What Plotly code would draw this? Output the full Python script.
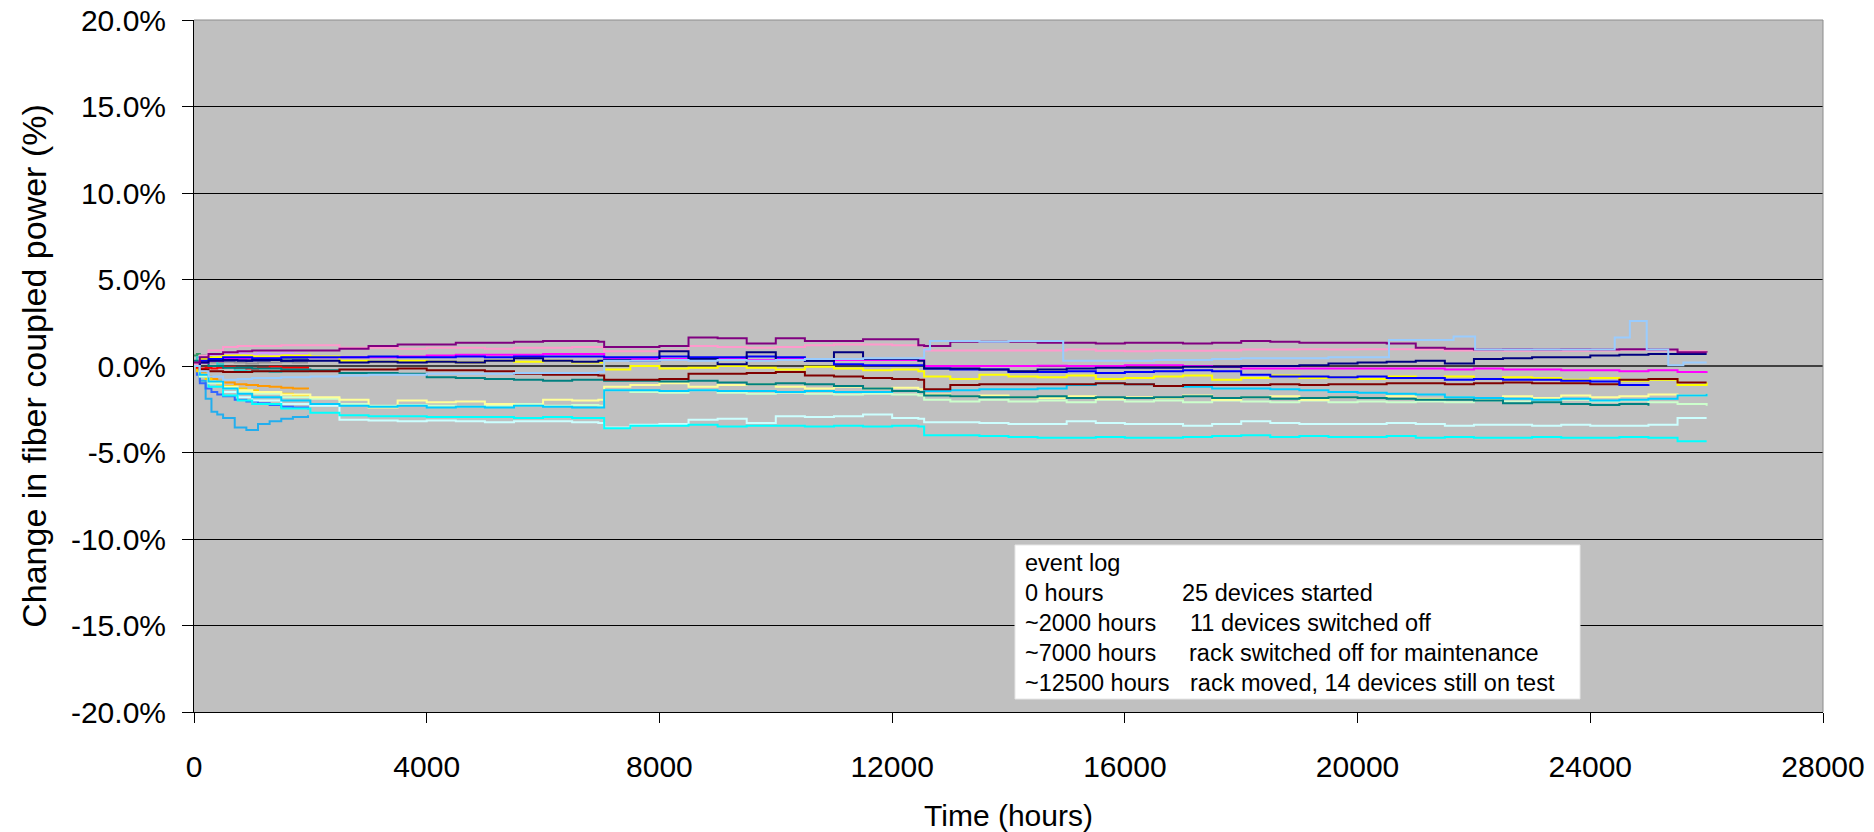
import plotly.graph_objects as go

# ---------------- data ----------------
# common time grid (hours) for the long-running devices
T = [0, 100, 250, 500, 750, 1000, 1500, 2000,
     2500, 3000, 3500, 4000, 4500, 5000, 5500, 6000, 6500,
     6950, 7050,
     7500, 8000, 8500, 9000, 9500, 10000, 10500, 11000, 11500, 12000,
     12450, 12550,
     13000, 13500, 14000, 14500, 15000, 15500, 16000, 16500, 17000, 17500,
     18000, 18500, 19000, 19500, 20000, 20500, 21000, 21500, 22000, 22500,
     23000, 23500, 24000, 24500, 25000, 25500, 26000]

PURPLE = [0.2, 0.5, 0.7, 0.8, 0.85, 0.9, 0.9, 0.9,
          1.0, 1.15, 1.25, 1.25, 1.35, 1.35, 1.4, 1.45, 1.45,
          1.4, 1.1,
          1.1, 1.15, 1.65, 1.6, 1.3, 1.6, 1.45, 1.45, 1.55, 1.55,
          1.2, 1.15,
          1.4, 1.4, 1.4, 1.35, 1.35, 1.3, 1.35, 1.35, 1.3, 1.35,
          1.45, 1.4, 1.35, 1.35, 1.35, 1.3, 1.05, 1.0, 0.95, 0.97,
          0.95, 0.97, 0.95, 0.97, 0.95, 0.8, 0.78]
PINK = [0.1, 0.6, 0.9, 1.1, 1.15, 1.15, 1.2, 1.2,
        1.05, 1.05, 1.0, 1.05, 1.05, 1.0, 1.05, 1.05, 1.1,
        1.1, 0.85,
        0.85, 0.9, 1.15, 1.1, 1.05, 1.1, 1.2, 1.25, 1.25, 1.2,
        1.2, 0.9,
        0.9, 0.9, 0.9, 0.9, 0.95, 0.88, 0.85, 0.88, 0.88, 0.9,
        0.95, 0.95, 0.97, 0.95, 0.97, 0.97, 0.95, 0.9, 0.9, 0.88,
        0.9, 0.88, 0.9, 0.92, 0.9, 0.85, 0.85]
NAVY = [0.0, 0.2, 0.3, 0.35, 0.3, 0.35, 0.3, 0.3,
        0.2, 0.25, 0.2, 0.25, 0.2, 0.3, 0.45, 0.3, 0.25,
        0.3, 0.35,
        0.3, 0.85, 0.4, 0.1, 0.8, 0.35, 0.3, 0.8, 0.4, 0.4,
        0.3, -0.15,
        -0.15, -0.2, -0.3, -0.2, -0.15, -0.1, -0.1, -0.1, -0.05, -0.05,
        0.0, 0.0, 0.05, 0.15, 0.2, 0.25, 0.3, 0.15, 0.4, 0.45,
        0.5, 0.5, 0.6, 0.65, 0.7, 0.7, 0.7]
BLUE = [0.0, 0.3, 0.4, 0.5, 0.5, 0.45, 0.5, 0.5,
        0.5, 0.55, 0.5, 0.5, 0.55, 0.5, 0.55, 0.55, 0.55,
        0.55, 0.5,
        0.5, 0.55, 0.5, 0.5, 0.55, 0.5, 0.3, 0.1, 0.05, 0.05,
        0.05, -0.15,
        -0.2, -0.2, -0.35, -0.35, -0.3, -0.4, -0.35, -0.3, -0.25, -0.3,
        -0.5, -0.6, -0.6, -0.65, -0.6, -0.7, -0.7, -0.8, -0.75, -0.8,
        -0.8, -0.85, -0.9, -1.1, -1.05]
MAGENTA = [0.0, 0.2, 0.3, 0.4, 0.45, 0.45, 0.5, 0.5,
           0.5, 0.5, 0.55, 0.6, 0.65, 0.65, 0.65, 0.7, 0.7,
           0.7, 0.4,
           0.4, 0.4, 0.35, 0.4, 0.35, 0.4, 0.35, 0.35, 0.35, 0.35,
           0.35, 0.0,
           0.0, 0.0, 0.0, 0.02, 0.0, 0.0, 0.05, 0.05, 0.0, -0.05,
           -0.15, -0.15, -0.15, -0.15, -0.15, -0.15, -0.15, -0.2, -0.15, -0.2,
           -0.2, -0.25, -0.25, -0.3, -0.25, -0.35, -0.3]
YELLOW = [0.0, 0.4, 0.5, 0.6, 0.6, 0.55, 0.6, 0.55,
          0.3, 0.25, 0.3, 0.25, 0.2, 0.3, 0.25, 0.3, 0.2,
          0.2, -0.2,
          0.0, -0.15, -0.1, 0.0, -0.1, -0.2, -0.05, -0.15, -0.25, -0.2,
          -0.3, -0.6,
          -0.75, -0.5, -0.6, -0.65, -0.55, -0.75, -0.7, -0.6, -0.55, -0.8,
          -0.7, -0.55, -0.7, -0.65, -0.75, -0.6, -0.7, -0.6, -0.75, -0.65,
          -0.7, -0.8, -0.7, -0.85, -0.8, -1.1, -0.95]
DARKRED = [0.0, -0.2, -0.3, -0.35, -0.35, -0.3, -0.3, -0.3,
           -0.2, -0.2, -0.15, -0.25, -0.25, -0.3, -0.45, -0.5, -0.5,
           -0.55, -0.8,
           -0.8, -0.75, -0.45, -0.45, -0.4, -0.35, -0.55, -0.6, -0.7, -0.75,
           -0.8, -1.35,
           -1.1, -1.05, -1.05, -1.05, -1.05, -1.0, -1.05, -1.15, -1.1, -1.1,
           -1.1, -1.05, -1.1, -1.05, -1.05, -1.0, -1.0, -1.05, -1.0, -0.95,
           -1.0, -1.0, -1.05, -0.8, -0.75, -0.95, -0.95]
TEAL = [0.3, 0.2, 0.0, -0.1, -0.1, -0.15, -0.2, -0.25,
        -0.4, -0.4, -0.45, -0.65, -0.7, -0.75, -0.8, -0.85, -0.8,
        -0.8, -0.85,
        -0.85, -0.9, -0.85, -0.95, -1.05, -1.0, -1.05, -1.15, -1.3, -1.45,
        -1.5, -1.7,
        -1.75, -1.8, -1.8, -1.75, -1.85, -1.8, -1.85, -1.8, -1.75, -1.85,
        -1.8, -1.9, -1.85, -1.8, -1.85, -1.9, -1.95, -1.95, -2.0, -2.15,
        -2.1, -2.2, -2.25, -2.2, -2.3]
LIGHTYELLOW = [0.0, -0.5, -0.9, -1.2, -1.4, -1.5, -1.65, -1.8,
               -1.95, -2.4, -2.0, -2.1, -2.05, -2.2, -2.3, -1.95, -2.0,
               -1.95, -1.2,
               -1.1, -1.0, -1.2, -1.1, -1.05, -1.2, -1.3, -1.2, -1.3, -1.25,
               -1.35, -1.65,
               -1.75, -1.7, -1.8, -1.85, -1.75, -1.9, -1.8, -1.85, -1.7, -1.95,
               -1.8, -1.75, -1.95, -1.8, -1.85, -1.75, -1.9, -1.8, -1.9, -1.75,
               -1.85, -1.7, -1.8, -1.75, -1.65, -1.7, -1.6]
LIGHTGREEN = [0.0, -0.6, -1.0, -1.3, -1.5, -1.6, -1.8, -1.9,
              -2.2, -2.3, -2.25, -2.3, -2.35, -2.3, -2.2, -2.3, -2.25,
              -2.3, -1.4,
              -1.5, -1.55, -1.4, -1.55, -1.6, -1.55, -1.6, -1.65, -1.6, -1.65,
              -1.7, -1.95,
              -2.05, -1.95, -2.05, -2.0, -2.1, -1.95, -2.05, -2.0, -2.1, -2.0,
              -2.05, -2.1, -2.0, -2.1, -2.05, -2.1, -2.05, -2.1, -2.0, -2.05,
              -2.1, -1.95, -2.05, -2.0, -2.1, -2.2, -2.3]
SKYBLUE = [0.0, -0.5, -0.9, -1.3, -1.6, -1.8, -2.0, -2.2,
           -2.3, -2.35, -2.3, -2.4, -2.35, -2.4, -2.3, -2.35, -2.4,
           -2.4, -1.4,
           -1.4, -1.45, -1.4, -1.45, -1.45, -1.5, -1.45, -1.5, -1.5, -1.45,
           -1.5, -1.45,
           -1.4, -1.35, -1.35, -1.3, -1.1, -1.0, -1.05, -1.15, -1.2, -1.3,
           -1.3, -1.35, -1.4, -1.5, -1.55, -1.6, -1.65, -1.8, -1.85, -1.9,
           -1.95, -1.9, -2.0, -1.95, -1.9, -1.7, -1.6]
LIGHTCYAN = [0.0, -0.5, -1.0, -1.5, -1.8, -2.0, -2.2, -2.3,
             -3.1, -3.15, -3.2, -3.15, -3.2, -3.25, -3.2, -3.2, -3.25,
             -3.3, -3.55,
             -3.4, -3.35, -3.1, -3.05, -3.3, -2.9, -2.95, -2.9, -2.8, -3.0,
             -3.05, -3.25,
             -3.25, -3.3, -3.35, -3.35, -3.2, -3.3, -3.35, -3.35, -3.45, -3.35,
             -3.2, -3.3, -3.35, -3.35, -3.35, -3.3, -3.35, -3.45, -3.4, -3.4,
             -3.45, -3.4, -3.45, -3.45, -3.4, -3.0, -3.0]
CYAN = [0.0, -0.6, -1.2, -1.7, -2.0, -2.2, -2.45, -2.7,
        -2.85, -2.9, -2.9, -2.95, -2.95, -2.95, -3.0, -2.95, -3.0,
        -3.0, -3.6,
        -3.45, -3.45, -3.4, -3.5, -3.45, -3.45, -3.5, -3.45, -3.5, -3.45,
        -3.5, -4.0,
        -4.0, -4.05, -4.1, -4.15, -4.15, -4.1, -4.15, -4.15, -4.1, -4.05,
        -4.0, -4.1, -4.05, -4.1, -4.1, -4.05, -4.15, -4.1, -4.15, -4.15,
        -4.1, -4.15, -4.15, -4.1, -4.15, -4.35, -4.35]

# light blue device has its own time base (several isolated jumps)
LB_T = [0, 100, 250, 500, 750, 1000, 1500, 2000, 2500, 3000, 3500, 4000, 4500,
        5000, 5500, 6000, 6500, 6950,
        7050, 7500, 8000, 8500, 9000, 9500, 10000, 10500, 11000, 11500, 12000,
        12450, 12550, 12650,
        13000, 13500, 14000, 14500,
        14940,
        15500, 16000, 16500, 17000, 17500, 18000, 18500, 19000, 19500, 20000,
        20540,
        21000, 21500, 21650,
        22020,
        22500, 23000, 23500, 24000,
        24420, 24680, 24970, 25340, 25600, 26000]
LB_V = [0.0, -0.3, -0.6, -0.8, -0.75, -0.7, -0.65, -0.6, -0.55, -0.5, -0.5, -0.45, -0.45,
        -0.45, -0.4, -0.4, -0.4, -0.35,
        0.3, 0.3, 0.35, 0.3, 0.35, 0.3, 0.35, 0.4, 0.4, 0.45, 0.45,
        0.45, 0.95, 1.45,
        1.45, 1.4, 1.45, 1.45,
        0.3,
        0.3, 0.3, 0.35, 0.35, 0.4, 0.45, 0.45, 0.45, 0.5, 0.5,
        1.5,
        1.5, 1.5, 1.7,
        0.95,
        0.95, 0.95, 0.95, 0.95,
        1.65, 2.6, 0.95, 0.05, 0.2, 0.2]

# eleven devices switched off at ~2000 hours
T_SHORT = [0, 50, 100, 200, 300, 400, 500, 700, 900, 1100, 1300, 1500, 1700, 1960]
DIP = [0.0, -0.3, -0.85, -1.9, -2.65, -2.8, -3.0, -3.55, -3.7, -3.35, -3.2, -3.05, -2.95, -2.85]
ROYAL = [0.0, -0.5, -1.0, -1.3, -1.5, -1.65, -1.75, -1.95, -2.05, -2.15, -2.25, -2.35, -2.4, -2.5]
ORANGE = [0.0, -0.2, -0.4, -0.6, -0.75, -0.85, -0.95, -1.05, -1.1, -1.15, -1.2, -1.25, -1.3, -1.35]
GOLD = [0.0, -0.3, -0.5, -0.75, -0.95, -1.05, -1.15, -1.3, -1.4, -1.5, -1.55, -1.6, -1.7, -1.75]
RED = [0.0, -0.1, -0.15, -0.1, -0.15, -0.1, -0.05, -0.1, -0.15, -0.1, -0.05, -0.1, -0.1, -0.05]
TURQ = [0.2, 0.5, 0.55, 0.4, 0.3, 0.1, -0.1, -0.25, -0.3, -0.3, -0.35, -0.3, -0.3, -0.25]
GRAY = [0.0, 0.1, 0.2, 0.25, 0.2, 0.2, 0.25, 0.2, 0.15, 0.2, 0.2, 0.25, 0.2, 0.2]
GREEN = [0.6, 0.7, 0.6, 0.5, 0.45, 0.4, 0.4, 0.35, 0.4, 0.45, 0.4, 0.45, 0.4, 0.4]
TAN = [0.0, 0.2, 0.35, 0.4, 0.45, 0.45, 0.5, 0.5, 0.55, 0.5, 0.55, 0.5, 0.55, 0.5]
LAVENDER = [0.0, 0.3, 0.5, 0.6, 0.65, 0.7, 0.7, 0.75, 0.7, 0.75, 0.7, 0.75, 0.7, 0.7]
SLATE = [0.0, 0.2, 0.3, 0.35, 0.3, 0.35, 0.3, 0.35, 0.3, 0.3, 0.35, 0.3, 0.35, 0.3]

X_TICKS = [0, 4000, 8000, 12000, 16000, 20000, 24000, 28000]
X_LABELS = ["0", "4000", "8000", "12000", "16000", "20000", "24000", "28000"]
Y_TICKS = [-20, -15, -10, -5, 0, 5, 10, 15, 20]
Y_LABELS = ["-20.0%", "-15.0%", "-10.0%", "-5.0%", "0.0%", "5.0%", "10.0%", "15.0%", "20.0%"]

EVENT_TIMES = ["event log", "0 hours", "~2000 hours", "~7000 hours", "~12500 hours"]
EVENT_TEXT = ["", "25 devices started", "11 devices switched off",
              "rack switched off for maintenance", "rack moved, 14 devices still on test"]

# ---------------- figure ----------------
FONT = "Liberation Sans, Arial, sans-serif"
fig = go.Figure()

short_series = [
    (DIP, "#22AEEE"), (ROYAL, "#3366FF"), (ORANGE, "#FF9900"), (GOLD, "#FFCC00"),
    (TAN, "#FFCC99"), (LAVENDER, "#CC99FF"), (GRAY, "#969696"), (GREEN, "#339966"),
    (SLATE, "#333399"), (TURQ, "#33CCCC"), (RED, "#FF0000"),
]
for vals, col in short_series:
    fig.add_trace(go.Scatter(x=T_SHORT[:len(vals)], y=vals, mode="lines",
                             line=dict(color=col, width=2, shape="hv"), hoverinfo="skip"))

long_series = [
    (LIGHTCYAN, "#CCFFFF"), (CYAN, "#00FFFF"), (LIGHTGREEN, "#CCFFCC"),
    (LIGHTYELLOW, "#FFFF99"), (SKYBLUE, "#00CCFF"), (TEAL, "#008080"),
    (PINK, "#FF99CC"), (MAGENTA, "#FF00FF"), (YELLOW, "#FFFF00"),
    (DARKRED, "#800000"), (BLUE, "#0000FF"), (NAVY, "#000080"), (PURPLE, "#800080"),
]
for vals, col in long_series:
    fig.add_trace(go.Scatter(x=T[:len(vals)], y=vals, mode="lines",
                             line=dict(color=col, width=2, shape="hv"), hoverinfo="skip"))
fig.add_trace(go.Scatter(x=LB_T, y=LB_V, mode="lines",
                         line=dict(color="#99CCFF", width=2, shape="hv"), hoverinfo="skip"))

L, R, TOP, BOT = 194, 1823, 20, 712


def px(p):
    return (p - L) / (R - L)


def py(p):
    return (BOT - p) / (BOT - TOP)


shapes = [
    dict(type="line", xref="paper", yref="paper", x0=0, x1=1, y0=1, y1=1,
         line=dict(color="#8C8C8C", width=1), layer="above"),
    dict(type="line", xref="paper", yref="paper", x0=1, x1=1, y0=0, y1=1,
         line=dict(color="#8C8C8C", width=1), layer="above"),
    dict(type="rect", xref="paper", yref="paper", x0=px(1015), x1=px(1580),
         y0=py(699), y1=py(545), fillcolor="white",
         line=dict(color="#E6E6E6", width=1), layer="above"),
]

annotations = []
row_y = [563, 593, 623, 653, 683]
col2_x = [1180, 1180, 1188, 1187, 1188]
for i, (a, b) in enumerate(zip(EVENT_TIMES, EVENT_TEXT)):
    annotations.append(dict(xref="paper", yref="paper", x=px(1023), y=py(row_y[i]),
                            xanchor="left", yanchor="middle", text=a, showarrow=False,
                            font=dict(family=FONT, size=23.5, color="black")))
    if b:
        annotations.append(dict(xref="paper", yref="paper", x=px(col2_x[i]), y=py(row_y[i]),
                                xanchor="left", yanchor="middle", text=b, showarrow=False,
                                font=dict(family=FONT, size=23.5, color="black")))

fig.update_layout(
    width=1874, height=832,
    margin=dict(l=L, r=1874 - R, t=TOP, b=832 - BOT, pad=0),
    paper_bgcolor="white", plot_bgcolor="#C0C0C0",
    showlegend=False,
    font=dict(family=FONT, color="black", size=30),
    shapes=shapes, annotations=annotations,
    xaxis=dict(range=[0, 28000], tickmode="array", tickvals=X_TICKS, ticktext=X_LABELS,
               automargin=False,
               ticks="outside", ticklen=10, tickwidth=1, tickcolor="black",
               showline=True, linecolor="black", linewidth=1,
               showgrid=False, zeroline=False,
               tickfont=dict(family=FONT, size=30, color="black"),
               ticklabelstandoff=18,
               title=dict(text="Time (hours)", font=dict(family=FONT, size=30, color="black"),
                          standoff=26)),
    yaxis=dict(range=[-20, 20], tickmode="array", tickvals=Y_TICKS, ticktext=Y_LABELS,
               automargin=False,
               ticks="outside", ticklen=11, tickwidth=1, tickcolor="black",
               showline=True, linecolor="black", linewidth=1,
               showgrid=True, gridcolor="black", gridwidth=1,
               zeroline=True, zerolinecolor="#404040", zerolinewidth=2,
               tickfont=dict(family=FONT, size=30, color="black"),
               ticklabelstandoff=10,
               title=dict(text="Change in fiber coupled power (%)",
                          font=dict(family=FONT, size=34, color="black"), standoff=14)),
)

fig.write_html("out.html", config={"displayModeBar": False},
               post_script="document.body.style.margin='0';")
